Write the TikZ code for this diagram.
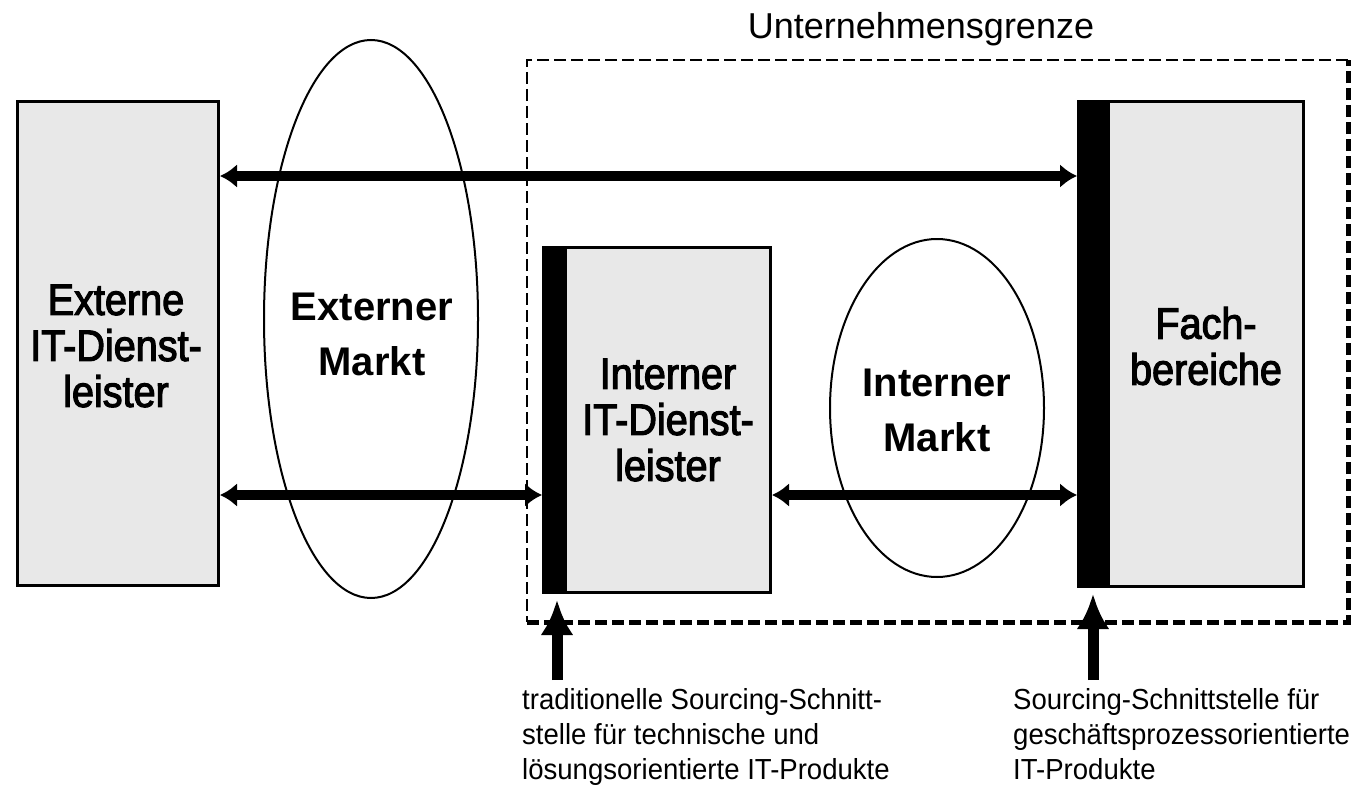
\documentclass[tikz,border=0pt]{standalone}
\usepackage{fontspec}
\setmainfont{Liberation Sans}
\newfontfamily\boxfont[FakeStretch=0.9,FakeBold=2.5]{Liberation Sans}
\newfontfamily\notefont[FakeStretch=0.95]{Liberation Sans}
\newfontfamily\titlefont[FakeStretch=1.0]{Liberation Sans}
\usetikzlibrary{arrows.meta,shapes.geometric}
\definecolor{boxgray}{RGB}{232,232,232}
\tikzset{
  grbox/.style={draw=black, line width=3pt, fill=boxgray, inner sep=0pt, anchor=north west},
  barbox/.style={fill=black, inner sep=0pt, anchor=north west},
  boxtext/.style={align=center, inner sep=0pt, font=\boxfont\fontsize{44}{46}\selectfont},
  mkttext/.style={align=center, inner sep=0pt, font=\bfseries\fontsize{40}{55}\selectfont},
  notetext/.style={align=left, inner sep=0pt, anchor=north west, font=\notefont\fontsize{29}{35}\selectfont},
  mkt/.style={draw=black, line width=2pt, ellipse, inner sep=0pt},
  dblarrow/.style={line width=10pt, {Latex[length=17pt,width=24pt]}-{Latex[length=17pt,width=24pt]}},
  uparrow/.style={line width=11pt, -{Latex[length=35pt,width=33pt]}},
  bound/.style={dash pattern=on 12pt off 5pt}
}
\begin{document}
\begin{tikzpicture}[x=1pt,y=-1pt]
\useasboundingbox (0,0) rectangle (1371,792);

% company boundary
\draw[bound, line width=2.5pt] (1348,60) -- (527,60) -- (527,622);
\draw[bound, line width=5pt] (527,622) -- (1348,622) -- (1348,60);
\node[font=\titlefont\fontsize{36}{40}\selectfont, inner sep=0pt] (grenze) at (921,29) {Unternehmensgrenze};

% markets
\node[mkt, minimum width=214pt, minimum height=558pt] (extm) at (371,319) {};
\node[mkttext] (extmt) at (372,334) {Externer\\Markt};
\node[mkt, minimum width=214pt, minimum height=338pt] (intm) at (937,408) {};
\node[mkttext] (intmt) at (937,410) {Interner\\Markt};

% boxes
\node[grbox, minimum width=201pt, minimum height=484pt] (ext) at (16,100) {};
\node[boxtext] (extt) at (116,346) {Externe\\IT-Dienst-\\leister};

\node[grbox, minimum width=227pt, minimum height=345pt] (int) at (542,246) {};
\node[barbox, minimum width=25pt, minimum height=345pt] (intbar) at (542,246) {};
\node[boxtext] (intt) at (668,420) {Interner\\IT-Dienst-\\leister};

\node[grbox, minimum width=225pt, minimum height=485pt] (fach) at (1077,100) {};
\node[barbox, minimum width=33pt, minimum height=485pt] (fachbar) at (1077,100) {};
\node[boxtext] (facht) at (1206,346) {Fach-\\bereiche};

% connectors
\coordinate (topy) at (0,176);
\coordinate (boty) at (0,495);
\draw[dblarrow] (ext.east |- topy) -- (fach.west |- topy);
\draw[dblarrow] (ext.east |- boty) -- (int.west |- boty);
\draw[dblarrow] (int.east |- boty) -- (fach.west |- boty);

\coordinate (u1) at (557,680);
\coordinate (u2) at (1093,680);
\draw[uparrow] (u1) -- ([yshift=-6pt]u1 |- int.south);
\draw[uparrow] (u2) -- ([yshift=-6pt]u2 |- fach.south);

% notes
\node[notetext] (n1) at (522,688) {traditionelle Sourcing-Schnitt-\\stelle für technische und\\lösungsorientierte IT-Produkte};
\node[notetext] (n2) at (1013,688) {Sourcing-Schnittstelle für\\geschäftsprozessorientierte\\IT-Produkte};
\end{tikzpicture}
\end{document}
